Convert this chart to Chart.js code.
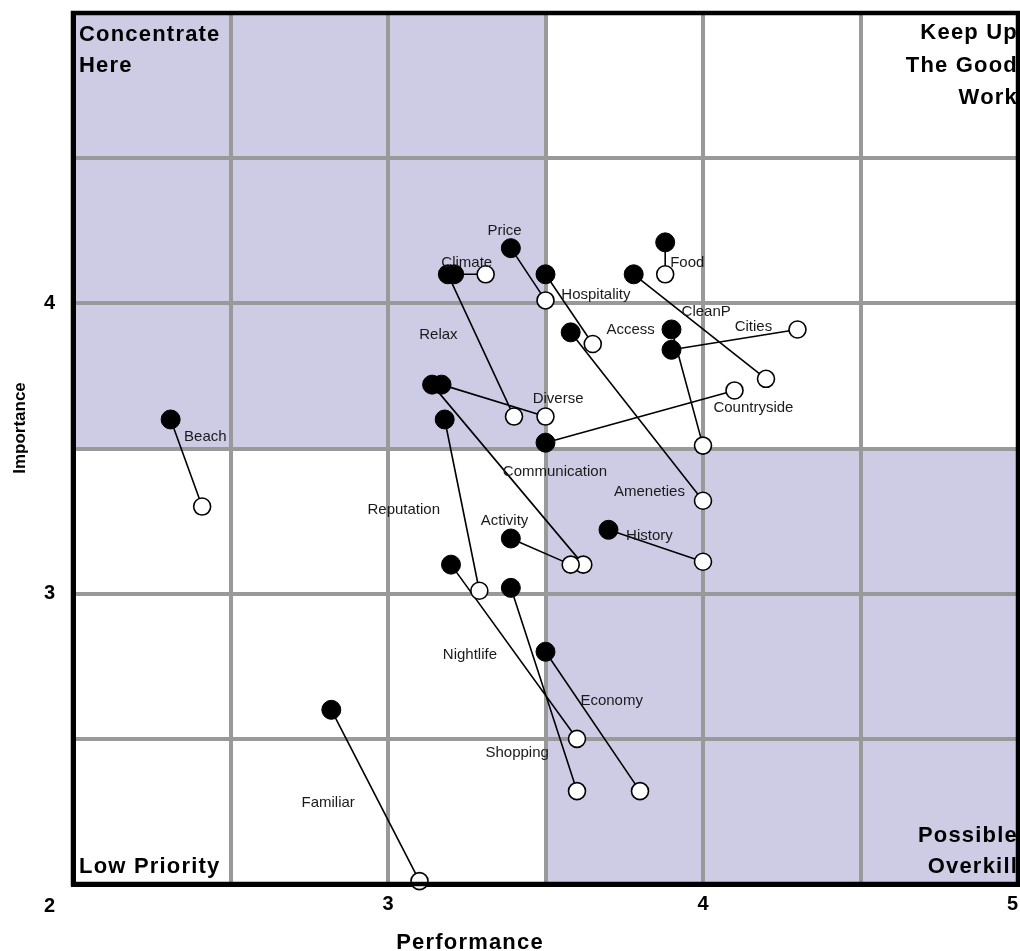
<!DOCTYPE html>
<html lang="en">
<head>
  <meta charset="UTF-8" />
  <title>Importance / Performance Grid</title>
  <script src="https://cdn.jsdelivr.net/npm/chart.js"></script>
  <style>
    html, body { margin: 0; padding: 0; background: #fff; overflow: hidden; }
    #wrap { width: 1020px; height: 951px; position: relative; }
    canvas { display: block; }
  </style>
</head>
<body>
  <div id="wrap"><canvas id="ipaChart"></canvas></div>

  <script>
    // attribute names
    const attributes = ['Beach', 'Price', 'Climate', 'Hospitality', 'Food', 'CleanP', 'Cities',
      'Access', 'Relax', 'Diverse', 'Countryside', 'Communication', 'Ameneties', 'Reputation',
      'Activity', 'History', 'Nightlife', 'Shopping', 'Economy', 'Familiar'];

    // filled markers (performance, importance)
    const perfA = [2.31, 3.39, 3.21, 3.50, 3.88, 3.78, 3.90, 3.58, 3.19, 3.17, 3.50, 3.14, 3.90, 3.18, 3.39, 3.70, 3.20, 3.39, 3.50, 2.82];
    const impA  = [3.60, 4.19, 4.10, 4.10, 4.21, 4.10, 3.84, 3.90, 4.10, 3.72, 3.52, 3.72, 3.91, 3.60, 3.19, 3.22, 3.10, 3.02, 2.80, 2.60];

    // open markers (performance, importance)
    const perfB = [2.41, 3.50, 3.31, 3.65, 3.88, 4.20, 4.30, 4.00, 3.40, 3.50, 4.10, 3.62, 4.00, 3.29, 3.58, 4.00, 3.60, 3.60, 3.80, 3.10];
    const impB  = [3.30, 4.01, 4.10, 3.86, 4.10, 3.74, 3.91, 3.32, 3.61, 3.61, 3.70, 3.10, 3.51, 3.01, 3.10, 3.11, 2.50, 2.32, 2.32, 2.01];

    // where each name is written
    const labelPerf = [2.42, 3.37, 3.25, 3.66, 3.95, 4.01, 4.16, 3.77, 3.16, 3.54, 4.16, 3.53, 3.83, 3.05, 3.37, 3.83, 3.26, 3.41, 3.71, 2.81];
    const labelImp  = [3.54, 4.25, 4.14, 4.03, 4.14, 3.97, 3.92, 3.91, 3.89, 3.67, 3.64, 3.42, 3.35, 3.29, 3.25, 3.20, 2.79, 2.45, 2.63, 2.28];

    const xTicks = [3, 4, 5];
    const yTicks = [3, 4];
    const cornerTick = '2';
    const splitAt = 3.5;

    const topLeftText = ['Concentrate', 'Here'];
    const topRightText = ['Keep Up', 'The Good', 'Work'];
    const bottomLeftText = ['Low Priority'];
    const bottomRightText = ['Possible', 'Overkill'];

    const FONT = '"Liberation Sans", Arial, Helvetica, sans-serif';
    Chart.defaults.font.family = FONT;

    const linkData = [];
    attributes.forEach((_, i) => {
      linkData.push({ x: perfA[i], y: impA[i] }, { x: perfB[i], y: impB[i] }, { x: null, y: null });
    });

    function writeLines(ctx, lines, x, y0, step) {
      lines.forEach((t, i) => ctx.fillText(t, x, y0 + i * step));
    }

    // drop the extra room chart.js keeps for overhanging tick labels
    function noPad(s) {
      s.paddingTop = 0; s.paddingBottom = 0; s.paddingLeft = 0; s.paddingRight = 0;
    }

    const gridPlugin = {
      id: 'quadrants',
      beforeDraw(chart) {
        const { ctx, chartArea: a, scales: { x, y } } = chart;
        const mx = x.getPixelForValue(splitAt);
        const my = y.getPixelForValue(splitAt);
        ctx.save();
        ctx.fillStyle = '#cecce5';
        ctx.fillRect(a.left, a.top, mx - a.left, my - a.top);
        ctx.fillRect(mx, my, a.right - mx, a.bottom - my);
        ctx.restore();
      },
      afterDatasetsDraw(chart) {
        const { ctx, chartArea: a, scales: { x, y } } = chart;
        ctx.save();

        // point names
        ctx.fillStyle = '#1a1a1a';
        ctx.font = '15px ' + FONT;
        ctx.textAlign = 'center';
        ctx.textBaseline = 'middle';
        attributes.forEach((name, i) => {
          ctx.fillText(name, x.getPixelForValue(labelPerf[i]), y.getPixelForValue(labelImp[i]));
        });

        // frame
        ctx.strokeStyle = '#000';
        ctx.lineWidth = 4.5;
        ctx.strokeRect(a.left, a.top, a.right - a.left, a.bottom - a.top);

        // quadrant captions
        ctx.fillStyle = '#000';
        ctx.textBaseline = 'alphabetic';
        ctx.font = 'bold 22px ' + FONT;
        if ('letterSpacing' in ctx) ctx.letterSpacing = '1.2px';
        ctx.textAlign = 'left';
        writeLines(ctx, topLeftText, a.left + 6, a.top + 28, 31);
        writeLines(ctx, bottomLeftText, a.left + 6, a.bottom - 11, 31);
        ctx.textAlign = 'right';
        writeLines(ctx, topRightText, a.right, a.top + 26, 32.5);
        writeLines(ctx, bottomRightText, a.right, a.bottom - 42, 31);

        // x axis title
        ctx.textAlign = 'center';
        ctx.fillText('Performance', 470, 949);
        if ('letterSpacing' in ctx) ctx.letterSpacing = '0px';

        // corner tick
        ctx.font = 'bold 20px ' + FONT;
        ctx.fillText(cornerTick, 49.5, 912);

        // y axis title
        ctx.font = 'bold 17px ' + FONT;
        ctx.translate(25, 428);
        ctx.rotate(-Math.PI / 2);
        ctx.fillText('Importance', 0, 0);
        ctx.restore();
      }
    };

    const ctx = document.getElementById('ipaChart').getContext('2d');
    new Chart(ctx, {
      type: 'scatter',
      data: {
        datasets: [
          {
            label: 'Filled',
            data: attributes.map((_, i) => ({ x: perfA[i], y: impA[i] })),
            pointRadius: 9.5,
            pointBackgroundColor: '#000',
            pointBorderColor: '#000',
            pointBorderWidth: 1,
            clip: false
          },
          {
            label: 'Open',
            data: attributes.map((_, i) => ({ x: perfB[i], y: impB[i] })),
            pointRadius: 8.5,
            pointBackgroundColor: '#fff',
            pointBorderColor: '#000',
            pointBorderWidth: 1.6,
            clip: false
          },
          {
            label: 'Links',
            data: linkData,
            showLine: true,
            spanGaps: false,
            borderColor: '#000',
            borderWidth: 1.6,
            pointRadius: 0,
            clip: false
          }
        ]
      },
      options: {
        responsive: true,
        maintainAspectRatio: false,
        animation: false,
        layout: { autoPadding: false, padding: { top: 13, right: 2, left: 0, bottom: 0 } },
        plugins: {
          legend: { display: false },
          tooltip: { enabled: false }
        },
        scales: {
          x: {
            type: 'linear',
            min: 2,
            max: 5,
            afterFit: s => { s.height = 67; noPad(s); },
            ticks: {
              stepSize: 0.5,
              autoSkip: false,
              maxRotation: 0,
              align: 'inner',
              padding: 8,
              color: '#000',
              font: { size: 20, weight: 'bold' },
              callback: v => xTicks.includes(v) ? String(v) : ''
            },
            grid: { color: '#999', lineWidth: 4, drawTicks: false },
            border: { color: '#000', width: 5 }
          },
          y: {
            type: 'linear',
            min: 2,
            max: 5,
            afterFit: s => { s.width = 73; noPad(s); },
            ticks: {
              stepSize: 0.5,
              autoSkip: false,
              padding: 18,
              color: '#000',
              font: { size: 20, weight: 'bold' },
              callback: v => yTicks.includes(v) ? String(v) : ''
            },
            grid: { color: '#999', lineWidth: 4, drawTicks: false },
            border: { color: '#000', width: 5 }
          }
        }
      },
      plugins: [gridPlugin]
    });
  </script>
</body>
</html>
